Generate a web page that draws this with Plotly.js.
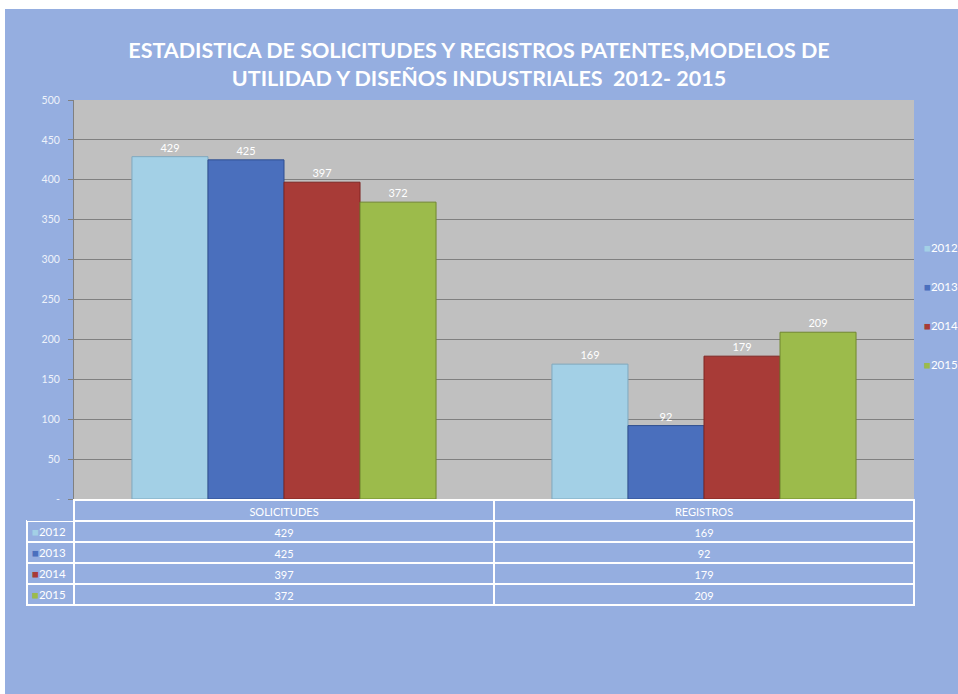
<!DOCTYPE html>
<html>
<head>
<meta charset="utf-8">
<script src="https://cdn.plot.ly/plotly-3.0.1.min.js"></script>
<style>html,body{margin:0;padding:0;background:#fff;} #chart{width:958px;height:694px;}</style>
</head>
<body>
<div id="chart"></div>
<script>
// ---- data ----
const categories = ['SOLICITUDES', 'REGISTROS'];
const years = ['2012', '2013', '2014', '2015'];
const values2012 = [429, 169];
const values2013 = [425, 92];
const values2014 = [397, 179];
const values2015 = [372, 209];
const yTickVals = [0, 50, 100, 150, 200, 250, 300, 350, 400, 450, 500];
const yTickText = ['-', '50', '100', '150', '200', '250', '300', '350', '400', '450', '500'];
const titleText = 'ESTADISTICA DE SOLICITUDES Y REGISTROS PATENTES,MODELOS DE<br>UTILIDAD Y DISEÑOS INDUSTRIALES  2012- 2015';

// ---- styling ----
const W = 958, H = 694;
const BG = '#95AEE0';
const FONT = 'Lato, "Open Sans", sans-serif';
const seriesValues = [values2012, values2013, values2014, values2015];
const colors = ['#A3D0E6', '#4A6FBD', '#A83B37', '#9CBB4B'];
const edge = ['#7FA9BF', '#2F4F8F', '#7E2623', '#71882F'];
const px = x => x / W;
const py = y => 1 - y / H;

const traces = years.map((yr, i) => ({
  type: 'bar',
  name: yr,
  x: categories,
  y: seriesValues[i],
  text: seriesValues[i].map(v => String(v)),
  textposition: 'outside',
  textfont: {color: '#FFFFFF', size: 11, family: FONT},
  cliponaxis: false,
  marker: {color: colors[i], line: {color: edge[i], width: 1}},
  showlegend: false,
  hoverinfo: 'x+y+name'
}));

// data table (the first column's legend keys are drawn as annotations below)
traces.push({
  type: 'table',
  domain: {x: [px(27), px(914)], y: [py(606), py(500)]},
  columnwidth: [47, 420, 420],
  header: {
    values: [''].concat(categories),
    align: 'center',
    height: 21,
    fill: {color: [BG, BG, BG]},
    line: {color: ['rgba(0,0,0,0)', '#FFFFFF', '#FFFFFF'], width: 1.5},
    font: {color: '#FFFFFF', size: 11, family: FONT}
  },
  cells: {
    values: [
      years.map(() => ''),
      seriesValues.map(v => String(v[0])),
      seriesValues.map(v => String(v[1]))
    ],
    align: ['left', 'center', 'center'],
    height: 21,
    fill: {color: BG},
    line: {color: '#FFFFFF', width: 1.5},
    font: {color: '#FFFFFF', size: 11, family: FONT}
  }
});

const key = (i, yr) => '<span style="color:' + colors[i] + '">■</span>' + yr;
// legend on the right (clipped at the page edge like the original)
const annotations = years.map((yr, i) => ({
  xref: 'paper', yref: 'paper',
  x: px(922), y: py(247 + i * 39),
  xanchor: 'left', yanchor: 'middle',
  text: key(i, yr),
  showarrow: false,
  font: {color: '#FFFFFF', size: 11.5, family: FONT}
}));
// legend keys in the data table's first column
years.forEach((yr, i) => annotations.push({
  xref: 'paper', yref: 'paper',
  x: px(30), y: py(531 + i * 21.2),
  xanchor: 'left', yanchor: 'middle',
  text: key(i, yr),
  showarrow: false,
  font: {color: '#FFFFFF', size: 11.5, family: FONT}
}));

const layout = {
  width: W, height: H,
  margin: {l: 0, r: 0, t: 0, b: 0},
  paper_bgcolor: BG,
  plot_bgcolor: '#C0C0C0',
  font: {family: FONT, color: '#FFFFFF'},
  title: {
    text: titleText,
    x: 0.5, xanchor: 'center',
    y: py(58), yanchor: 'middle',
    font: {family: FONT, size: 21.5, color: '#FFFFFF', weight: 'bold'}
  },
  barmode: 'group',
  bargap: 0.276,
  bargroupgap: 0,
  showlegend: false,
  xaxis: {
    domain: [px(74), px(914)],
    showticklabels: false,
    ticks: '',
    showgrid: false,
    zeroline: false,
    showline: false,
    fixedrange: true
  },
  yaxis: {
    domain: [py(499), py(100)],
    range: [0, 500],
    tickvals: yTickVals,
    ticktext: yTickText,
    ticks: 'outside',
    ticklen: 5,
    tickcolor: '#808080',
    ticklabelstandoff: 6,
    tickfont: {size: 10.5, color: '#EEF2FA', family: FONT},
    showgrid: true,
    gridcolor: '#808080',
    gridwidth: 1,
    zeroline: false,
    showline: true,
    linecolor: '#808080',
    linewidth: 1,
    fixedrange: true
  },
  shapes: [
    {type: 'rect', xref: 'paper', yref: 'paper', x0: 0, x1: 1, y0: py(9), y1: 1, fillcolor: '#FFFFFF', line: {width: 0}, layer: 'below'},
    {type: 'rect', xref: 'paper', yref: 'paper', x0: 0, x1: px(5), y0: 0, y1: 1, fillcolor: '#FFFFFF', line: {width: 0}, layer: 'below'}
  ],
  annotations: annotations
};

Plotly.newPlot('chart', traces, layout, {displayModeBar: false, staticPlot: true});
</script>
</body>
</html>
